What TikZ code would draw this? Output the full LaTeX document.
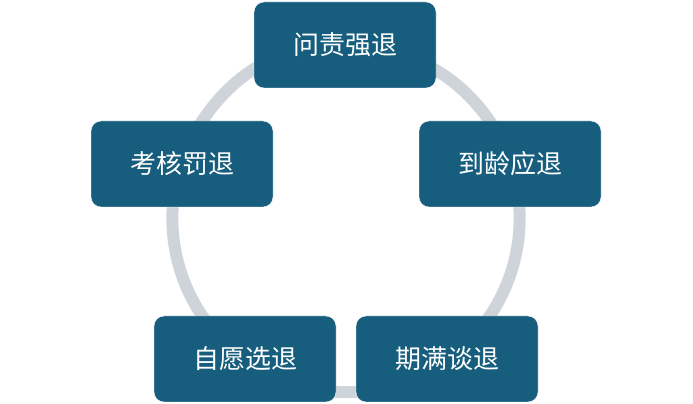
\documentclass[tikz,border=0pt]{standalone}
\usepackage{fontspec}
\newfontfamily\cjk{Noto Sans CJK SC}
\usetikzlibrary{arrows.meta}
\definecolor{boxblue}{HTML}{175E7E}
\definecolor{ringgray}{HTML}{CFD4DA}
\begin{document}
\begin{tikzpicture}[x=1pt,y=1pt]
    % --- Style Definitions ---
    \tikzset{
        stage/.style={
            rectangle,
            rounded corners=10pt,
            draw=white,
            fill=boxblue,
            minimum width=182pt,
            minimum height=86pt,
            font=\cjk\fontsize{26}{30}\selectfont,
            text=white
        },
        ring/.style={
            draw=ringgray,
            line width=12pt,
            -{Triangle[length=20pt,width=30pt]}
        }
    }
    \useasboundingbox (0,0) rectangle (693,404);

    % --- Cycle ---
    \coordinate (hub) at (346,185.4);
    \draw[ring] ([shift={(70:173.6)}]hub) arc[start angle=70, end angle=-254, radius=173.6];

    % --- Stages ---
    \node[stage] (wenze) at (345,359) {问责强退};
    \node[stage] (daoling) at (510,240) {到龄应退};
    \node[stage] (qiman) at (447,45) {期满谈退};
    \node[stage] (ziyuan) at (245,45) {自愿选退};
    \node[stage] (kaohe) at (182,240) {考核罚退};
\end{tikzpicture}
\end{document}
